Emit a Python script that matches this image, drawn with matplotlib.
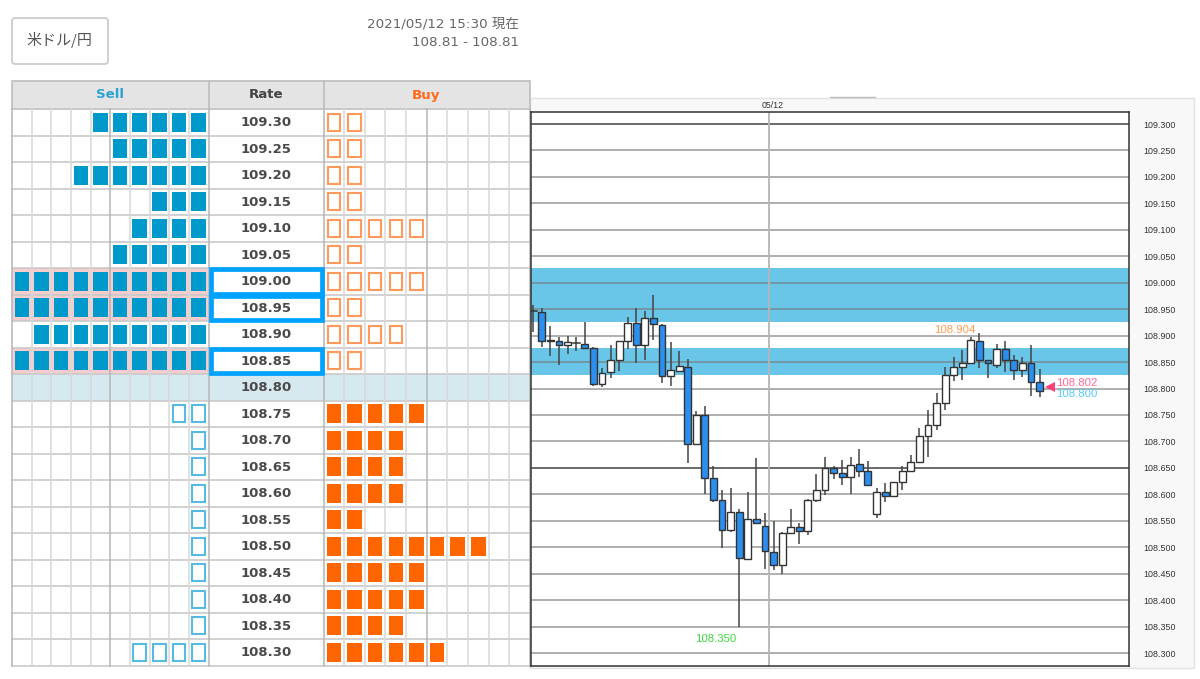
import matplotlib
matplotlib.use("Agg")
import matplotlib.pyplot as plt
from matplotlib.patches import Rectangle, FancyBboxPatch

plt.rcParams['font.family'] = ['DejaVu Sans', 'Noto Sans CJK JP']

W, H = 1200, 679

# ---- ladder data ----
rates = ["109.30","109.25","109.20","109.15","109.10","109.05","109.00","108.95","108.90","108.85",
         "108.80","108.75","108.70","108.65","108.60","108.55","108.50","108.45","108.40","108.35","108.30"]
sell_filled =  [6,5,7,3,4,5,10,10,9,10,0,0,0,0,0,0,0,0,0,0,0]
sell_outline = [0,0,0,0,0,0,0,0,0,0,0,2,1,1,1,1,1,1,1,1,4]
buy_outline =  [2,2,2,2,5,2,5,2,4,2,0,0,0,0,0,0,0,0,0,0,0]
buy_filled =   [0,0,0,0,0,0,0,0,0,0,0,5,4,4,4,2,8,5,5,4,6]
boxed_rates = ["109.00","108.95","108.85"]
current_rate = "108.80"

# ---- candle data ----
opens = [108.946,108.944,108.891,108.890,108.883,108.886,108.884,108.876,108.808,108.831,
         108.854,108.890,108.923,108.883,108.934,108.920,108.824,108.834,108.840,108.695,
         108.749,108.631,108.589,108.532,108.566,108.478,108.553,108.541,108.491,108.466,
         108.526,108.539,108.531,108.589,108.609,108.649,108.641,108.632,108.657,108.644,
         108.563,108.604,108.596,108.624,108.644,108.662,108.711,108.731,108.772,108.826,
         108.841,108.849,108.890,108.853,108.845,108.874,108.853,108.835,108.849,108.813]
highs = [108.958,108.953,108.918,108.897,108.899,108.898,108.926,108.878,108.838,108.882,
         108.890,108.936,108.953,108.947,108.977,108.921,108.887,108.871,108.855,108.758,
         108.767,108.653,108.608,108.611,108.573,108.605,108.668,108.564,108.550,108.529,
         108.573,108.545,108.592,108.639,108.670,108.653,108.665,108.671,108.685,108.663,
         108.611,108.621,108.624,108.653,108.674,108.725,108.759,108.792,108.841,108.860,
         108.872,108.898,108.904,108.853,108.884,108.889,108.863,108.860,108.882,108.836]
lows = [108.907,108.879,108.861,108.844,108.866,108.871,108.876,108.805,108.802,108.819,
        108.834,108.874,108.848,108.854,108.892,108.810,108.805,108.832,108.659,108.693,
        108.600,108.586,108.498,108.529,108.350,108.478,108.544,108.458,108.457,108.449,
        108.526,108.506,108.524,108.586,108.599,108.628,108.618,108.600,108.632,108.618,
        108.556,108.586,108.596,108.608,108.643,108.659,108.671,108.722,108.759,108.814,
        108.816,108.849,108.838,108.819,108.838,108.831,108.816,108.822,108.785,108.783]
closes = [108.946,108.890,108.890,108.883,108.887,108.886,108.876,108.808,108.830,108.853,
          108.890,108.923,108.883,108.934,108.921,108.824,108.835,108.842,108.695,108.750,
          108.631,108.589,108.532,108.566,108.480,108.553,108.545,108.493,108.466,108.526,
          108.539,108.531,108.590,108.609,108.649,108.641,108.633,108.655,108.644,108.618,
          108.604,108.596,108.624,108.644,108.662,108.711,108.731,108.772,108.826,108.841,
          108.849,108.892,108.853,108.849,108.874,108.853,108.835,108.849,108.813,108.796]

price_ticks = [109.30,109.25,109.20,109.15,109.10,109.05,109.00,108.95,108.90,108.85,108.80,
               108.75,108.70,108.65,108.60,108.55,108.50,108.45,108.40,108.35,108.30]
bands = [(108.926,109.028),(108.825,108.877)]
date_label = "05/12"
date_index = 27.47
last_labels = ("108.802","108.800")

BLUE_FILL = "#0099cc"; BLUE_LINE = "#55bbe2"
ORANGE_FILL = "#ff6600"; ORANGE_LINE = "#ff9a5c"
GRID = "#c9c9c9"

fig = plt.figure(figsize=(W/100, H/100), dpi=100, facecolor="white")

# page axes in pixel units, holds ladder and page furniture
pg = fig.add_axes([0,0,1,1])
pg.set_xlim(0,W); pg.set_ylim(H,0); pg.axis("off")

# currency button
pg.add_patch(FancyBboxPatch((12,18),96,46,boxstyle="round,pad=0,rounding_size=3",
                            fc="white",ec="#c8c8c8",lw=1.2))
pg.text(59.5,40,"米ドル/円",ha="center",va="center",fontsize=10.8,color="#555555",
        family=['Noto Sans CJK JP','DejaVu Sans'])
pg.text(519,24,"2021/05/12 15:30 現在",ha="right",va="center",fontsize=9.7,color="#666666")
pg.text(519,43,"108.81 - 108.81",ha="right",va="center",fontsize=9.7,color="#666666")

# ladder geometry
L, SELL_R, RATE_R, R = 12, 208.5, 323.5, 530
HEAD_T, HEAD_B = 81, 109
ROW_H = 26.5
NCELL = 10
SW = (SELL_R-L)/NCELL
BW = (R-RATE_R)/NCELL
n = len(rates)
BOTTOM = HEAD_B+ROW_H*n

# chart panel background (drawn before ladder)
pg.add_patch(Rectangle((530,98),664,570,fc="#f8f8f8",ec="#e2e2e2",lw=1,zorder=0.1))
pg.plot([830,875],[97,97],color="#bbbbbb",lw=1,zorder=0.2)
pg.text(773,105,date_label,ha="center",va="center",fontsize=6.3,color="#333333",family="Liberation Sans")
pg.add_patch(Rectangle((L,109),R-L,BOTTOM-109,fc="white",ec="none",zorder=0.2))

# header
pg.add_patch(Rectangle((L,HEAD_T),R-L,HEAD_B-HEAD_T,fc="#e4e4e4",ec="#bdbdbd",lw=1.2,zorder=0.3))
for xv in (SELL_R,RATE_R):
    pg.plot([xv,xv],[HEAD_T,HEAD_B],color="#bdbdbd",lw=1.2)
head_font = dict(ha="center",va="center",fontsize=9.6,fontweight="bold",family="DejaVu Sans")
pg.text(110,95,"Sell",color="#2ca3d3",**head_font)
pg.text(266,95,"Rate",color="#444444",**head_font)
pg.text(426,95,"Buy",color="#ff6a1a",**head_font)

for i,rate in enumerate(rates):
    top = HEAD_B+i*ROW_H
    if rate == current_rate:
        pg.add_patch(Rectangle((L,top),R-L,ROW_H,fc="#d6e9ef",ec="none",zorder=0.5))
    if rate in boxed_rates:
        pg.add_patch(Rectangle((L,top),SELL_R-L,ROW_H,fc="#f6cccc",ec="none",zorder=0.5))

# grid of the ladder
for i in range(n+1):
    yy = HEAD_B+i*ROW_H
    pg.plot([L,R],[yy,yy],color=GRID,lw=1.2,zorder=1)
for c in range(NCELL+1):
    xs = L+c*SW
    xb = RATE_R+c*BW
    col = "#b5b5b5" if c in (0,5,10) else "#d8d8d8"
    pg.plot([xs,xs],[HEAD_B,BOTTOM],color=col,lw=1.1,zorder=1)
    pg.plot([xb,xb],[HEAD_B,BOTTOM],color=col,lw=1.1,zorder=1)

MW, MH = 14.5, 19
def mark(cx, top, fill, line):
    cy = top+ROW_H/2
    if fill:
        pg.add_patch(Rectangle((cx-MW/2,cy-MH/2),MW,MH,fc=line,ec="none",zorder=2))
    else:
        pg.add_patch(Rectangle((cx-MW/2+1,cy-MH/2+1),MW-2,MH-2,fc="white",ec=line,lw=1.5,zorder=2))

for i,rate in enumerate(rates):
    top = HEAD_B+i*ROW_H
    for c in range(sell_filled[i]):
        mark(SELL_R-(c+0.5)*SW, top, True, BLUE_FILL)
    for c in range(sell_outline[i]):
        mark(SELL_R-(c+0.5)*SW, top, False, BLUE_LINE)
    for c in range(buy_filled[i]):
        mark(RATE_R+(c+0.5)*BW, top, True, ORANGE_FILL)
    for c in range(buy_outline[i]):
        mark(RATE_R+(c+0.5)*BW, top, False, ORANGE_LINE)
    pg.text((SELL_R+RATE_R)/2,top+ROW_H/2+0.5,rate,ha="center",va="center",fontsize=9.5,
            fontweight="bold",color="#4a4a4a",family="DejaVu Sans",zorder=4)
    if rate in boxed_rates:
        pg.add_patch(Rectangle((SELL_R+2,top+1),RATE_R-SELL_R-4,ROW_H-2,fc="none",ec="#00a2ff",lw=3.4,zorder=3))

# chart axes on a price scale
ax_l, ax_r, ax_t, ax_b = 531, 1129, 112, 666
ax = fig.add_axes([ax_l/W, 1-ax_b/H, (ax_r-ax_l)/W, (ax_b-ax_t)/H])
ax.set_facecolor("white")
STEP = 8.58
ax.set_xlim((ax_l-533.3)/STEP, (ax_r-533.3)/STEP)
ax.set_ylim(109.3-(ax_b-124)/529, 109.3+(124-ax_t)/529)
for s in ax.spines.values():
    s.set_color("#333333"); s.set_linewidth(1.1)
ax.set_xticks([])
ax.yaxis.tick_right()
ax.set_yticks(price_ticks)
ax.set_yticklabels([f"{p:.3f}" for p in price_ticks],fontsize=6.4,color="#333333",family="Liberation Sans")
ax.tick_params(axis="y",length=0,pad=10)

for lo,hi in bands:
    ax.axhspan(lo,hi,color="#6ac6e8",lw=0,zorder=1)
for p in price_ticks:
    dark = abs(p-108.65)<1e-6 or abs(p-109.30)<1e-6
    ax.axhline(p,color="#555555" if dark else "#777777",lw=1.3 if dark else 1.1,alpha=0.95 if dark else 0.75,zorder=1.5)
ax.axvline(date_index,color="#b5b5b5",lw=1.3,zorder=1.6)

for i,(o,h,l,c) in enumerate(zip(opens,highs,lows,closes)):
    ax.plot([i,i],[l,h],color="#444444",lw=1.1,zorder=3,solid_capstyle="butt")
    lo,hi = min(o,c),max(o,c)
    fc = "#2b8fef" if c<o else "white"
    if hi-lo < 0.001:
        ax.plot([i-0.42,i+0.42],[o,o],color="#333333",lw=1.1,zorder=4)
    else:
        ax.add_patch(Rectangle((i-0.4,lo),0.8,hi-lo,fc=fc,ec="#333333",lw=1.0,zorder=4))

lab = dict(va="center",family="Liberation Sans",fontsize=8.2,zorder=6)
ax.text(49.1,108.911,"108.904",ha="center",color="#ff9a50",**lab)
ax.text(21.3,108.327,"108.350",ha="center",color="#3fd83f",**lab)
ax.text(60.9,108.811,last_labels[0],ha="left",color="#ff6a96",**lab)
ax.text(60.9,108.789,last_labels[1],ha="left",color="#55ccff",**lab)
ax.plot([60.2],[108.802],marker="<",ms=7,color="#ff3f78",mew=0,ls="none",zorder=6)

fig.savefig("out.png",dpi=100,facecolor="white")
